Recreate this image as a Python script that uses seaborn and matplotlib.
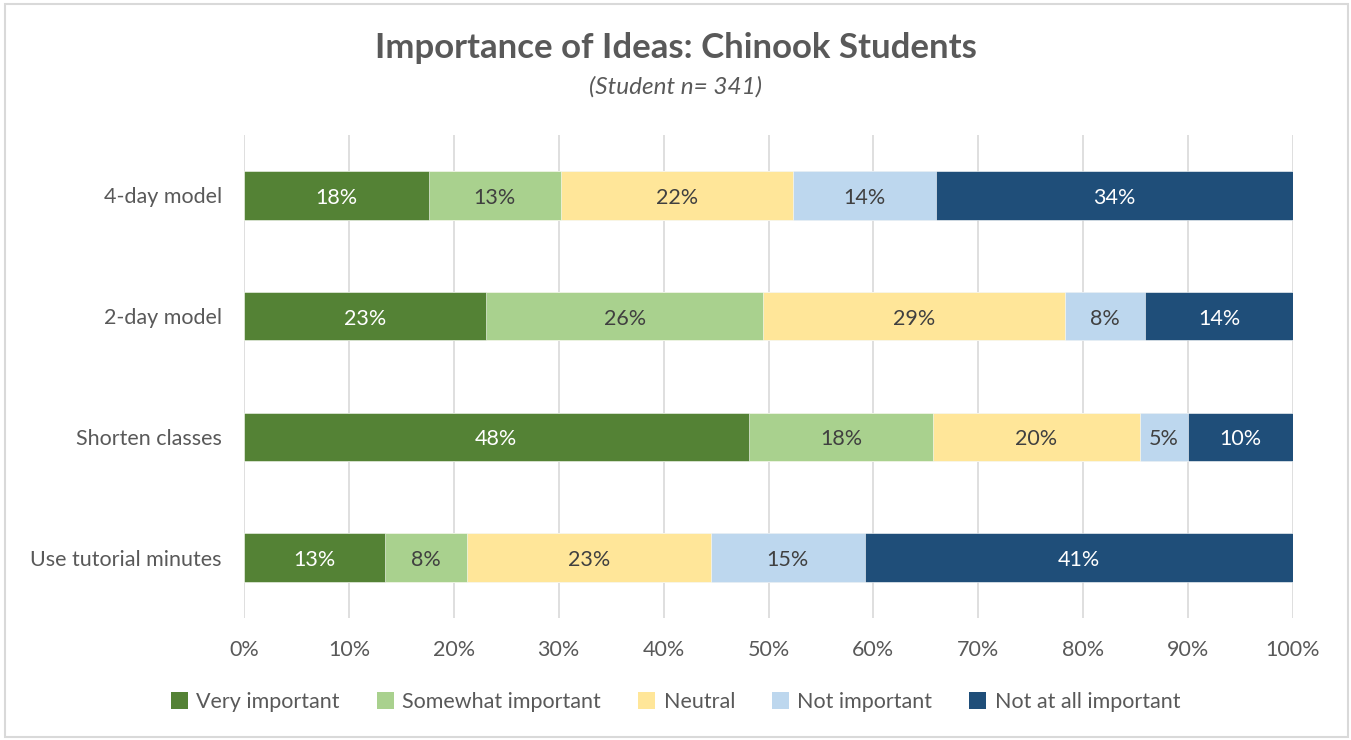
import numpy as np
import pandas as pd
import matplotlib
matplotlib.use("Agg")
import matplotlib.pyplot as plt
from matplotlib.patches import Patch, Rectangle
import seaborn as sns

# Survey results (percent of respondents)
ideas = ["4-day model", "2-day model", "Shorten classes", "Use tutorial minutes"]
levels = ["Very important", "Somewhat important", "Neutral", "Not important", "Not at all important"]
very_important = [17.6, 23.1, 48.1, 13.4]
somewhat_important = [12.6, 26.4, 17.6, 7.9]
neutral = [22.1, 28.8, 19.7, 23.2]
not_important = [13.7, 7.6, 4.6, 14.7]
not_at_all_important = [34.0, 14.1, 10.0, 40.8]
x_ticks = [0, 10, 20, 30, 40, 50, 60, 70, 80, 90, 100]

colors = ["#548235", "#A9D18E", "#FFE699", "#BDD7EE", "#1F4E79"]
label_colors = ["white", "#404040", "#404040", "#404040", "white"]

sns.set_theme(style="white")
plt.rcParams["font.family"] = ["Lato", "DejaVu Sans"]
text_gray = "#595959"
fs = 15.5

series = [very_important, somewhat_important, neutral, not_important, not_at_all_important]
df = pd.DataFrame({lvl: vals for lvl, vals in zip(levels, series)}, index=ideas)
cum = df.cumsum(axis=1)

fig = plt.figure(figsize=(13.51, 7.40), dpi=100)
ax = fig.add_axes([244 / 1351, 1 - 618 / 740, (1293 - 244) / 1351, (618 - 135) / 740])

# Stacked bars: draw cumulative totals from the outermost segment inward
for i in range(len(levels) - 1, -1, -1):
    d = pd.DataFrame({"idea": ideas, "total": cum.iloc[:, i].values})
    sns.barplot(data=d, x="total", y="idea", order=ideas, orient="h",
                color=colors[i], width=0.4, saturation=1, ax=ax,
                edgecolor="white", linewidth=0.4, zorder=2)

# Segment labels
for r, idea in enumerate(ideas):
    for i, lvl in enumerate(levels):
        v = df.loc[idea, lvl]
        start = cum.loc[idea, lvl] - v
        ax.text(start + v / 2, r + 0.02, f"{v:.0f}%", ha="center", va="center",
                fontsize=fs, color=label_colors[i], zorder=3)

ax.set_xlim(0, 100)
ax.set_ylim(3.5, -0.5)
ax.set_xticks(x_ticks)
ax.set_xticklabels([f"{t}%" for t in x_ticks], fontsize=fs, color=text_gray)
ax.tick_params(axis="y", labelsize=fs, labelcolor=text_gray, length=0, pad=16)
ax.tick_params(axis="x", length=0, pad=16)
ax.set_xlabel("")
ax.set_ylabel("")
ax.grid(axis="x", color="#D9D9D9", linewidth=1.2, zorder=0)
ax.grid(axis="y", visible=False)
ax.set_axisbelow(True)
for s in ax.spines.values():
    s.set_visible(False)

fig.text(0.5, 1 - 48 / 740, "Importance of Ideas: Chinook Students", ha="center", va="center",
         fontsize=25, fontweight="bold", color=text_gray)
fig.text(0.5, 1 - 87 / 740, "(Student n= 341)", ha="center", va="center",
         fontsize=17.5, style="italic", color=text_gray)

handles = [Patch(facecolor=c, edgecolor="none") for c in colors]
fig.legend(handles, levels, loc="center", bbox_to_anchor=(0.5, 1 - 702 / 740), ncol=5,
           frameon=False, fontsize=fs, handlelength=0.8, handleheight=0.8,
           handletextpad=0.4, columnspacing=1.7, labelcolor=text_gray)

fig.patches.append(Rectangle((4.5 / 1351, 3 / 740), 1343 / 1351, 733.5 / 740,
                             transform=fig.transFigure, fill=False,
                             edgecolor="#D9D9D9", linewidth=1.5))

fig.savefig("out.png", dpi=100)
